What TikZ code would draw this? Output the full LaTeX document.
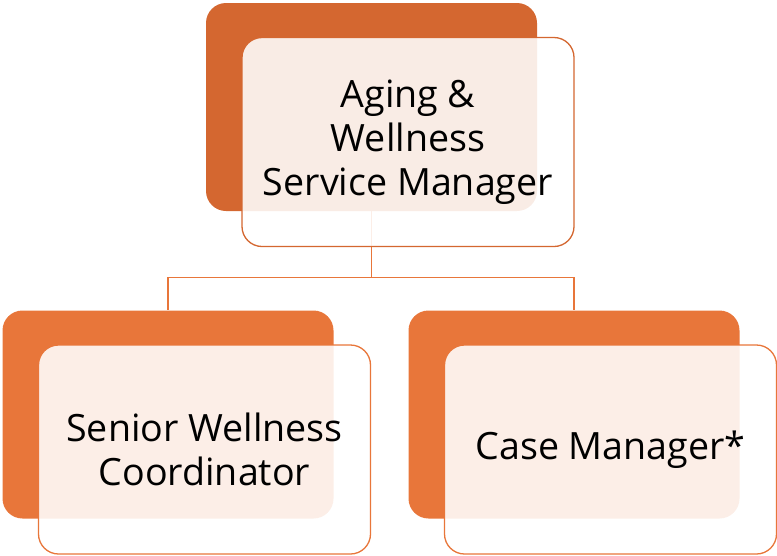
\documentclass[tikz,border=0pt]{standalone}
\usepackage{fontspec}
\setmainfont{Open Sans}
\usetikzlibrary{positioning}
\definecolor{topdark}{RGB}{212,103,48}
\definecolor{orng}{RGB}{232,118,58}

\begin{document}
\begin{tikzpicture}[x=1pt,y=-1pt,
	backbox/.style={fill=#1,rounded corners=20pt,minimum width=331pt,minimum height=208pt},
	frontbox/.style={draw=#1,line width=1.3pt,fill=white,fill opacity=0.88,text opacity=1,rounded corners=20pt,
		minimum width=332pt,minimum height=209pt,align=center,xshift=36.5pt,yshift=-35pt,
		font=\fontsize{37.6}{44}\selectfont}]
	\useasboundingbox (0,0) rectangle (777,555);
	\node[backbox=topdark] (B0) at (371.5,107) {};
	\foreach \x [count=\n] in {168,574}
		\node[backbox=orng] (B\n) at (\x,414.5) {};

	\coordinate (split) at (371.5,277.5);
	\draw[orng,line width=1.6pt] (B0.south) -- (split) -| (B1.north) (split) -| (B2.north);

	\node[frontbox=topdark] (F0) at (B0) {Aging \&\\Wellness\\Service Manager};
	\foreach \t [count=\n] in {{Senior Wellness\\Coordinator},{Case Manager*}}
		\node[frontbox=orng] (F\n) at (B\n) {\t};
\end{tikzpicture}
\end{document}
